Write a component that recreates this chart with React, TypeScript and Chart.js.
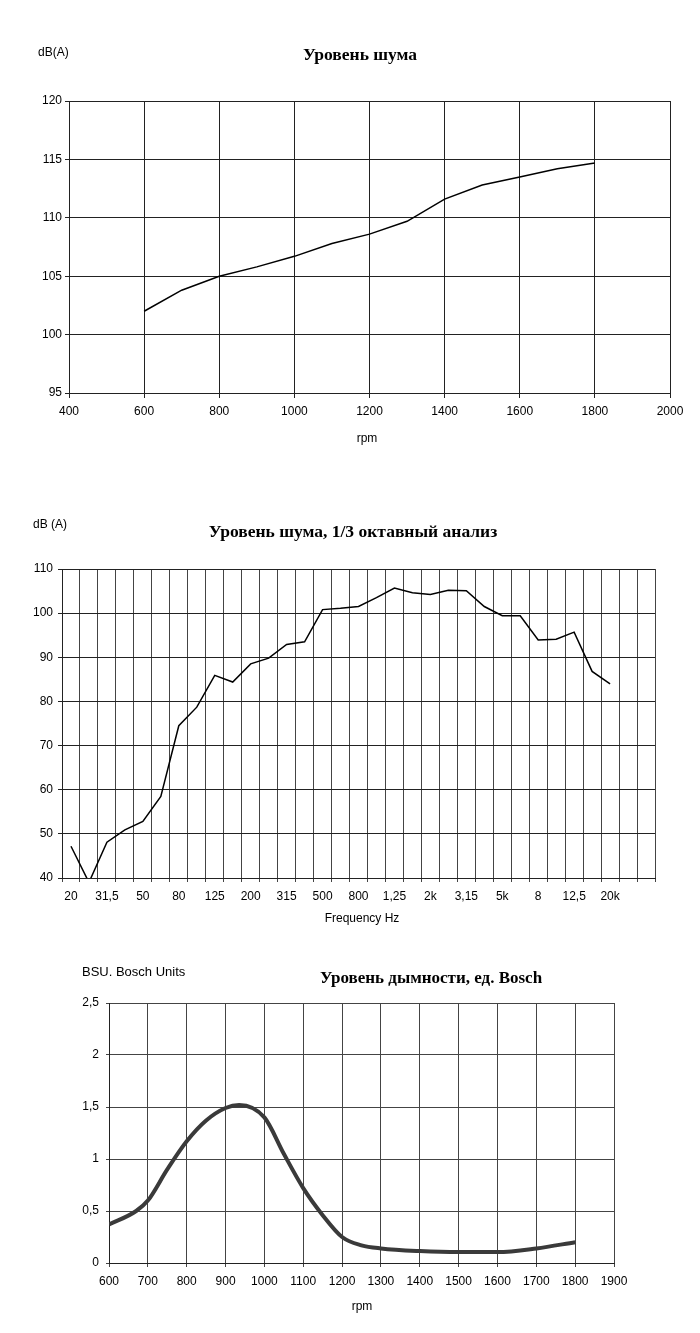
import { useEffect, useRef } from "react";
import { Chart, registerables } from "chart.js";

Chart.register(...registerables);

// ---------- Data ----------
// Chart 1: noise level vs rpm
const noiseRpm = [600, 700, 800, 900, 1000, 1100, 1200, 1300, 1400, 1500, 1600, 1700, 1800];
const noiseDb = [102.0, 103.8, 105.0, 105.8, 106.7, 107.8, 108.6, 109.7, 111.6, 112.8, 113.5, 114.2, 114.7];

// Chart 2: 1/3 octave analysis
const bandLabels = [
  "20", "25", "31,5", "40", "50", "63", "80", "100", "125", "160",
  "200", "250", "315", "400", "500", "630", "800", "1k", "1,25", "1,6",
  "2k", "2,5", "3,15", "4k", "5k", "6,3", "8", "10", "12,5", "16",
  "20k", "", "",
];
const bandDb = [
  47.2, 39.0, 48.1, 50.9, 52.8, 58.5, 74.5, 78.7, 85.9, 84.4,
  88.5, 89.8, 92.9, 93.5, 100.8, 101.1, 101.5, 103.5, 105.7, 104.6,
  104.2, 105.2, 105.1, 101.5, 99.4, 99.4, 93.9, 94.1, 95.7, 86.8,
  84.0,
];

// Chart 3: smoke level, Bosch units
const smokeRpm = [600, 670, 700, 750, 800, 850, 900, 935, 1000, 1050, 1100, 1150, 1200, 1250, 1300, 1400, 1500, 1600, 1700, 1800];
const smokeBsu = [0.37, 0.5, 0.6, 0.9, 1.17, 1.37, 1.49, 1.52, 1.4, 1.05, 0.72, 0.46, 0.25, 0.17, 0.14, 0.115, 0.105, 0.105, 0.14, 0.2];

// ---------- Styling helpers ----------
const SANS = "'Liberation Sans', Arial, sans-serif";
const SERIF = "'Liberation Serif', 'Times New Roman', serif";

type TextItem = { text: string; x: number; y: number; font: string; align?: CanvasTextAlign };

const textPlugin = (items: TextItem[]) => ({
  id: "freeText",
  afterDraw(chart: Chart) {
    const ctx = chart.ctx;
    ctx.save();
    ctx.fillStyle = "#000";
    ctx.textBaseline = "middle";
    for (const it of items) {
      ctx.font = it.font;
      ctx.textAlign = it.align ?? "left";
      ctx.fillText(it.text, it.x, it.y);
    }
    ctx.restore();
  },
});

const fixW = (w: number) => (s: any) => {
  s.width = w;
};
const fixH = (h: number) => (s: any) => {
  s.height = h;
};
const plain = (v: any) => String(v);
const comma = (v: any) => String(v).replace(".", ",");

const tickFont = { family: SANS, size: 12 };

function ChartBox({ top, height, make }: { top: number; height: number; make: (c: HTMLCanvasElement) => Chart }) {
  const ref = useRef<HTMLCanvasElement | null>(null);
  useEffect(() => {
    if (!ref.current) return;
    const chart = make(ref.current);
    return () => chart.destroy();
  }, []);
  return (
    <canvas
      ref={ref}
      width={700}
      height={height}
      style={{ position: "absolute", left: 0, top, width: 700, height }}
    />
  );
}

const makeNoise = (c: HTMLCanvasElement) =>
  new Chart(c, {
    type: "line",
    data: {
      datasets: [
        {
          data: noiseRpm.map((x, i) => ({ x, y: noiseDb[i] })),
          borderColor: "#000",
          borderWidth: 1.5,
          pointRadius: 0,
          tension: 0,
          fill: false,
        },
      ],
    },
    options: {
      animation: false,
      responsive: false,
      layout: { padding: { left: 29, right: 30, top: 101, bottom: 37 } },
      plugins: { legend: { display: false }, tooltip: { enabled: false } },
      scales: {
        x: {
          type: "linear",
          min: 400,
          max: 2000,
          ticks: { stepSize: 200, color: "#000", font: tickFont, padding: 6, maxRotation: 0, callback: plain },
          grid: { color: "#222", lineWidth: 1, tickLength: 5 },
          border: { color: "#222" },
          afterFit: fixH(40),
        },
        y: {
          min: 95,
          max: 120,
          ticks: { stepSize: 5, color: "#000", font: tickFont, padding: 3, callback: plain },
          grid: { color: "#222", lineWidth: 1, tickLength: 4 },
          border: { color: "#222" },
          afterFit: fixW(40),
        },
      },
    },
    plugins: [
      textPlugin([
        { text: "dB(A)", x: 38, y: 53, font: `12px ${SANS}` },
        { text: "Уровень шума", x: 360, y: 55, font: `bold 17.5px ${SERIF}`, align: "center" },
        { text: "rpm", x: 367, y: 439, font: `12px ${SANS}`, align: "center" },
      ]),
    ],
  } as any);

const makeBands = (c: HTMLCanvasElement) =>
  new Chart(c, {
    type: "line",
    data: {
      labels: bandLabels,
      datasets: [
        {
          data: bandDb,
          borderColor: "#000",
          borderWidth: 1.5,
          pointRadius: 0,
          tension: 0,
          fill: false,
        },
      ],
    },
    options: {
      animation: false,
      responsive: false,
      layout: { padding: { left: 22, right: 45, top: 99, bottom: 22 } },
      plugins: { legend: { display: false }, tooltip: { enabled: false } },
      scales: {
        x: {
          type: "category",
          offset: true,
          ticks: {
            autoSkip: false,
            maxRotation: 0,
            color: "#000",
            font: tickFont,
            padding: 7,
            callback: (_v: any, i: number) => (i % 2 === 0 ? bandLabels[i] : ""),
          },
          grid: { offset: true, color: "#444", lineWidth: 1, tickLength: 4 },
          border: { color: "#222" },
          afterFit: fixH(40),
        },
        y: {
          min: 40,
          max: 110,
          ticks: { stepSize: 10, color: "#000", font: tickFont, padding: 5, callback: plain },
          grid: { color: "#222", lineWidth: 1, tickLength: 4 },
          border: { color: "#222" },
          afterFit: fixW(40),
        },
      },
    },
    plugins: [
      textPlugin([
        { text: "dB (A)", x: 33, y: 55, font: `12px ${SANS}` },
        { text: "Уровень шума, 1/3 октавный анализ", x: 353, y: 62, font: `bold 17.5px ${SERIF}`, align: "center" },
        { text: "Frequency Hz", x: 362, y: 449, font: `12px ${SANS}`, align: "center" },
      ]),
    ],
  } as any);

const makeSmoke = (c: HTMLCanvasElement) =>
  new Chart(c, {
    type: "line",
    data: {
      datasets: [
        {
          data: smokeRpm.map((x, i) => ({ x, y: smokeBsu[i] })),
          borderColor: "#3a3a3a",
          borderWidth: 4,
          pointRadius: 0,
          cubicInterpolationMode: "monotone",
          fill: false,
        },
      ],
    },
    options: {
      animation: false,
      responsive: false,
      layout: { padding: { left: 69, right: 86, top: 63, bottom: 30 } },
      plugins: { legend: { display: false }, tooltip: { enabled: false } },
      scales: {
        x: {
          type: "linear",
          min: 600,
          max: 1900,
          ticks: { stepSize: 100, color: "#000", font: tickFont, padding: 7, maxRotation: 0, autoSkip: false, callback: plain },
          grid: { color: "#444", lineWidth: 1, tickLength: 4 },
          border: { color: "#222" },
          afterFit: fixH(40),
        },
        y: {
          min: 0,
          max: 2.5,
          ticks: { stepSize: 0.5, color: "#000", font: tickFont, padding: 7, callback: comma },
          grid: { color: "#444", lineWidth: 1, tickLength: 3 },
          border: { color: "#222" },
          afterFit: fixW(40),
        },
      },
    },
    plugins: [
      textPlugin([
        { text: "BSU. Bosch Units", x: 82, y: 32, font: `13px ${SANS}` },
        { text: "Уровень дымности, ед. Bosch", x: 431, y: 39, font: `bold 17px ${SERIF}`, align: "center" },
        { text: "rpm", x: 362, y: 367, font: `12px ${SANS}`, align: "center" },
      ]),
    ],
  } as any);

export default function App() {
  return (
    <div style={{ position: "absolute", left: 0, top: 0, width: 700, height: 1333, background: "#fff" }}>
      <ChartBox top={0} height={470} make={makeNoise} />
      <ChartBox top={470} height={470} make={makeBands} />
      <ChartBox top={940} height={393} make={makeSmoke} />
    </div>
  );
}
